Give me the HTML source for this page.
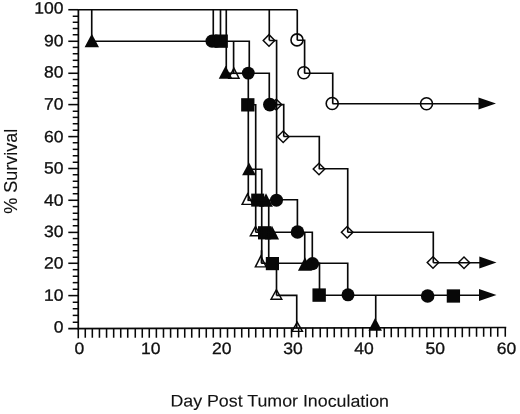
<!DOCTYPE html>
<html><head><meta charset="utf-8"><title>Survival chart</title>
<style>
html,body{margin:0;padding:0;background:#fff;}
svg{display:block}
text{font-family:"Liberation Sans",Arial,Helvetica,sans-serif;fill:#111;stroke:#111;}
</style></head>
<body>
<svg width="520" height="414" viewBox="0 0 520 414">
<rect width="520" height="414" fill="#fff"/>
<g>
<polygon points="269,33.60 275.80,40.4 269,47.20 262.20,40.4" fill="#080808"/><polygon points="269,35.65 273.75,40.4 269,45.15 264.25,40.4" fill="#fff"/>
<circle cx="297" cy="39.9" r="6.0" fill="#fff" stroke="#080808" stroke-width="1.6"/>
<polygon points="233.90,66.60 227.60,78.90 240.20,78.90" fill="#080808"/><polygon points="233.90,69.78 229.97,77.45 237.83,77.45" fill="#fff"/>
<circle cx="303.9" cy="72.8" r="6.0" fill="#fff" stroke="#080808" stroke-width="1.6"/>
<polygon points="276.3,98.20 282.70,104.6 276.3,111.00 269.90,104.6" fill="#080808"/><polygon points="276.3,100.25 280.65,104.6 276.3,108.95 271.95,104.6" fill="#fff"/>
<circle cx="332.2" cy="103.5" r="6.0" fill="#fff" stroke="#080808" stroke-width="1.6"/>
<circle cx="426.5" cy="103.8" r="6.0" fill="#fff" stroke="#080808" stroke-width="1.6"/>
<polygon points="283.2,129.90 290.00,136.7 283.2,143.50 276.40,136.7" fill="#080808"/><polygon points="283.2,131.95 287.95,136.7 283.2,141.45 278.45,136.7" fill="#fff"/>
<polygon points="319,162.20 325.80,169 319,175.80 312.20,169" fill="#080808"/><polygon points="319,164.25 323.75,169 319,173.75 314.25,169" fill="#fff"/>
<polygon points="247.50,192.20 240.95,205.10 254.05,205.10" fill="#080808"/><polygon points="247.50,195.40 243.31,203.65 251.69,203.65" fill="#fff"/>
<polygon points="255.50,224.90 249.10,236.40 261.90,236.40" fill="#080808"/><polygon points="255.50,227.88 251.57,234.95 259.43,234.95" fill="#fff"/>
<polygon points="347.2,225.40 354.00,232.2 347.2,239.00 340.40,232.2" fill="#080808"/><polygon points="347.2,227.45 351.95,232.2 347.2,236.95 342.45,232.2" fill="#fff"/>
<polygon points="260.80,254.60 254.20,267.60 267.40,267.60" fill="#080808"/><polygon points="260.80,257.80 256.56,266.15 265.04,266.15" fill="#fff"/>
<polygon points="433,255.70 439.80,262.5 433,269.30 426.20,262.5" fill="#080808"/><polygon points="433,257.75 437.75,262.5 433,267.25 428.25,262.5" fill="#fff"/>
<polygon points="464,256.00 470.80,262.8 464,269.60 457.20,262.8" fill="#080808"/><polygon points="464,258.05 468.75,262.8 464,267.55 459.25,262.8" fill="#fff"/>
<polygon points="276.40,288.20 269.80,299.90 283.00,299.90" fill="#080808"/><polygon points="276.40,291.15 272.28,298.45 280.52,298.45" fill="#fff"/>
<polygon points="297.20,320.70 290.70,332.10 303.70,332.10" fill="#080808"/><polygon points="297.20,323.63 293.20,330.65 301.20,330.65" fill="#fff"/>
</g>
<g>
<polygon points="91.80,33.80 84.60,47.25 99.00,47.25" fill="#080808"/>
<circle cx="212.1" cy="41.15" r="6.65" fill="#080808"/>
<circle cx="216" cy="41.15" r="6.65" fill="#080808"/>
<rect x="214.55" y="34.50" width="13.3" height="13.3" fill="#080808"/>
<polygon points="225.60,65.80 218.75,78.65 232.45,78.65" fill="#080808"/>
<circle cx="248.3" cy="73.1" r="6.4" fill="#080808"/>
<rect x="241.15" y="98.20" width="13.3" height="13.3" fill="#080808"/>
<circle cx="269.85" cy="104.6" r="6.8" fill="#080808"/>
<polygon points="478.5,97.5 496,103.5 478.5,109.5" fill="#080808"/>
<polygon points="249.00,162.60 242.10,175.15 255.90,175.15" fill="#080808"/>
<rect x="251.20" y="193.60" width="13.0" height="13.0" fill="#080808"/>
<polygon points="266.00,193.30 259.05,206.65 272.95,206.65" fill="#080808"/>
<circle cx="276.5" cy="200.2" r="6.5" fill="#080808"/>
<rect x="258.00" y="226.20" width="13.2" height="13.2" fill="#080808"/>
<polygon points="272.00,225.70 264.95,239.55 279.05,239.55" fill="#080808"/>
<circle cx="297.5" cy="232" r="6.8" fill="#080808"/>
<rect x="265.80" y="257.00" width="13.2" height="13.2" fill="#080808"/>
<polygon points="305.00,257.30 297.95,270.75 312.05,270.75" fill="#080808"/>
<circle cx="312.5" cy="263.7" r="6.6" fill="#080808"/>
<polygon points="479.3,256.6 496.5,262.6 479.3,268.6" fill="#080808"/>
<rect x="312.45" y="288.40" width="13.4" height="13.4" fill="#080808"/>
<circle cx="348" cy="294.8" r="6.5" fill="#080808"/>
<circle cx="427.65" cy="296" r="6.8" fill="#080808"/>
<rect x="446.75" y="289.35" width="13.3" height="13.3" fill="#080808"/>
<polygon points="479,289.0 496.5,295 479,301.0" fill="#080808"/>
<polygon points="375.20,317.80 368.45,330.85 381.95,330.85" fill="#080808"/>
</g>
<g>
<path d="M78.40 9.27 L78.27 329.40" fill="none" stroke="#080808" stroke-width="1.75" stroke-linejoin="miter" stroke-linecap="butt"/>
<path d="M68.27 328.60 L506.27 327.50" fill="none" stroke="#080808" stroke-width="1.6" stroke-linejoin="miter" stroke-linecap="butt"/>
<path d="M72.73 322.27 L78.27 322.27" fill="none" stroke="#080808" stroke-width="1.5" stroke-linejoin="miter" stroke-linecap="butt"/>
<path d="M72.73 315.40 L78.27 315.40" fill="none" stroke="#080808" stroke-width="1.5" stroke-linejoin="miter" stroke-linecap="butt"/>
<path d="M72.73 308.73 L78.27 308.73" fill="none" stroke="#080808" stroke-width="1.5" stroke-linejoin="miter" stroke-linecap="butt"/>
<path d="M72.73 302.27 L78.27 302.27" fill="none" stroke="#080808" stroke-width="1.5" stroke-linejoin="miter" stroke-linecap="butt"/>
<path d="M68.30 295.60 L78.27 295.60" fill="none" stroke="#080808" stroke-width="1.55" stroke-linejoin="miter" stroke-linecap="butt"/>
<path d="M72.73 289.27 L78.27 289.27" fill="none" stroke="#080808" stroke-width="1.5" stroke-linejoin="miter" stroke-linecap="butt"/>
<path d="M72.73 282.64 L78.27 282.64" fill="none" stroke="#080808" stroke-width="1.5" stroke-linejoin="miter" stroke-linecap="butt"/>
<path d="M72.73 276.27 L78.27 276.27" fill="none" stroke="#080808" stroke-width="1.5" stroke-linejoin="miter" stroke-linecap="butt"/>
<path d="M72.73 269.68 L78.27 269.68" fill="none" stroke="#080808" stroke-width="1.5" stroke-linejoin="miter" stroke-linecap="butt"/>
<path d="M68.30 263.27 L78.27 263.27" fill="none" stroke="#080808" stroke-width="1.55" stroke-linejoin="miter" stroke-linecap="butt"/>
<path d="M72.73 257.27 L78.27 257.27" fill="none" stroke="#080808" stroke-width="1.5" stroke-linejoin="miter" stroke-linecap="butt"/>
<path d="M72.73 250.73 L78.27 250.73" fill="none" stroke="#080808" stroke-width="1.5" stroke-linejoin="miter" stroke-linecap="butt"/>
<path d="M72.73 244.72 L78.27 244.72" fill="none" stroke="#080808" stroke-width="1.5" stroke-linejoin="miter" stroke-linecap="butt"/>
<path d="M72.73 238.56 L78.27 238.56" fill="none" stroke="#080808" stroke-width="1.5" stroke-linejoin="miter" stroke-linecap="butt"/>
<path d="M68.30 232.40 L78.27 232.40" fill="none" stroke="#080808" stroke-width="1.55" stroke-linejoin="miter" stroke-linecap="butt"/>
<path d="M72.73 225.73 L78.27 225.73" fill="none" stroke="#080808" stroke-width="1.5" stroke-linejoin="miter" stroke-linecap="butt"/>
<path d="M72.73 219.48 L78.27 219.48" fill="none" stroke="#080808" stroke-width="1.5" stroke-linejoin="miter" stroke-linecap="butt"/>
<path d="M72.73 213.27 L78.27 213.27" fill="none" stroke="#080808" stroke-width="1.5" stroke-linejoin="miter" stroke-linecap="butt"/>
<path d="M72.73 206.56 L78.27 206.56" fill="none" stroke="#080808" stroke-width="1.5" stroke-linejoin="miter" stroke-linecap="butt"/>
<path d="M68.30 200.27 L78.27 200.27" fill="none" stroke="#080808" stroke-width="1.55" stroke-linejoin="miter" stroke-linecap="butt"/>
<path d="M72.73 193.73 L78.27 193.73" fill="none" stroke="#080808" stroke-width="1.5" stroke-linejoin="miter" stroke-linecap="butt"/>
<path d="M72.73 187.46 L78.27 187.46" fill="none" stroke="#080808" stroke-width="1.5" stroke-linejoin="miter" stroke-linecap="butt"/>
<path d="M72.73 181.27 L78.27 181.27" fill="none" stroke="#080808" stroke-width="1.5" stroke-linejoin="miter" stroke-linecap="butt"/>
<path d="M72.73 174.73 L78.27 174.73" fill="none" stroke="#080808" stroke-width="1.5" stroke-linejoin="miter" stroke-linecap="butt"/>
<path d="M68.30 168.50 L78.27 168.50" fill="none" stroke="#080808" stroke-width="1.55" stroke-linejoin="miter" stroke-linecap="butt"/>
<path d="M72.73 162.27 L78.27 162.27" fill="none" stroke="#080808" stroke-width="1.5" stroke-linejoin="miter" stroke-linecap="butt"/>
<path d="M72.73 155.73 L78.27 155.73" fill="none" stroke="#080808" stroke-width="1.5" stroke-linejoin="miter" stroke-linecap="butt"/>
<path d="M72.73 149.36 L78.27 149.36" fill="none" stroke="#080808" stroke-width="1.5" stroke-linejoin="miter" stroke-linecap="butt"/>
<path d="M72.73 142.73 L78.27 142.73" fill="none" stroke="#080808" stroke-width="1.5" stroke-linejoin="miter" stroke-linecap="butt"/>
<path d="M68.30 136.60 L78.28 136.60" fill="none" stroke="#080808" stroke-width="1.55" stroke-linejoin="miter" stroke-linecap="butt"/>
<path d="M72.73 130.27 L78.29 130.27" fill="none" stroke="#080808" stroke-width="1.5" stroke-linejoin="miter" stroke-linecap="butt"/>
<path d="M72.73 123.73 L78.29 123.73" fill="none" stroke="#080808" stroke-width="1.5" stroke-linejoin="miter" stroke-linecap="butt"/>
<path d="M72.73 117.40 L78.30 117.40" fill="none" stroke="#080808" stroke-width="1.5" stroke-linejoin="miter" stroke-linecap="butt"/>
<path d="M72.73 111.27 L78.30 111.27" fill="none" stroke="#080808" stroke-width="1.5" stroke-linejoin="miter" stroke-linecap="butt"/>
<path d="M68.30 104.60 L78.31 104.60" fill="none" stroke="#080808" stroke-width="1.55" stroke-linejoin="miter" stroke-linecap="butt"/>
<path d="M72.73 98.32 L78.32 98.32" fill="none" stroke="#080808" stroke-width="1.5" stroke-linejoin="miter" stroke-linecap="butt"/>
<path d="M72.73 92.27 L78.32 92.27" fill="none" stroke="#080808" stroke-width="1.5" stroke-linejoin="miter" stroke-linecap="butt"/>
<path d="M72.73 85.73 L78.33 85.73" fill="none" stroke="#080808" stroke-width="1.5" stroke-linejoin="miter" stroke-linecap="butt"/>
<path d="M72.73 79.48 L78.33 79.48" fill="none" stroke="#080808" stroke-width="1.5" stroke-linejoin="miter" stroke-linecap="butt"/>
<path d="M68.30 73.27 L78.34 73.27" fill="none" stroke="#080808" stroke-width="1.55" stroke-linejoin="miter" stroke-linecap="butt"/>
<path d="M72.73 66.73 L78.35 66.73" fill="none" stroke="#080808" stroke-width="1.5" stroke-linejoin="miter" stroke-linecap="butt"/>
<path d="M72.73 60.32 L78.35 60.32" fill="none" stroke="#080808" stroke-width="1.5" stroke-linejoin="miter" stroke-linecap="butt"/>
<path d="M72.73 53.73 L78.36 53.73" fill="none" stroke="#080808" stroke-width="1.5" stroke-linejoin="miter" stroke-linecap="butt"/>
<path d="M72.73 47.44 L78.36 47.44" fill="none" stroke="#080808" stroke-width="1.5" stroke-linejoin="miter" stroke-linecap="butt"/>
<path d="M68.30 41.27 L78.37 41.27" fill="none" stroke="#080808" stroke-width="1.55" stroke-linejoin="miter" stroke-linecap="butt"/>
<path d="M72.73 34.73 L78.38 34.73" fill="none" stroke="#080808" stroke-width="1.5" stroke-linejoin="miter" stroke-linecap="butt"/>
<path d="M72.73 28.52 L78.38 28.52" fill="none" stroke="#080808" stroke-width="1.5" stroke-linejoin="miter" stroke-linecap="butt"/>
<path d="M72.73 22.28 L78.39 22.28" fill="none" stroke="#080808" stroke-width="1.5" stroke-linejoin="miter" stroke-linecap="butt"/>
<path d="M72.73 16.27 L78.39 16.27" fill="none" stroke="#080808" stroke-width="1.5" stroke-linejoin="miter" stroke-linecap="butt"/>
<path d="M68.30 9.73 L78.40 9.73" fill="none" stroke="#080808" stroke-width="1.55" stroke-linejoin="miter" stroke-linecap="butt"/>
<path d="M78.27 328.60 L78.27 338.27" fill="none" stroke="#080808" stroke-width="1.55" stroke-linejoin="miter" stroke-linecap="butt"/>
<path d="M85.27 328.58 L85.27 337.73" fill="none" stroke="#080808" stroke-width="1.55" stroke-linejoin="miter" stroke-linecap="butt"/>
<path d="M92.33 328.56 L92.33 337.73" fill="none" stroke="#080808" stroke-width="1.55" stroke-linejoin="miter" stroke-linecap="butt"/>
<path d="M99.44 328.55 L99.44 337.73" fill="none" stroke="#080808" stroke-width="1.55" stroke-linejoin="miter" stroke-linecap="butt"/>
<path d="M106.56 328.53 L106.56 337.73" fill="none" stroke="#080808" stroke-width="1.55" stroke-linejoin="miter" stroke-linecap="butt"/>
<path d="M113.67 328.51 L113.67 337.73" fill="none" stroke="#080808" stroke-width="1.55" stroke-linejoin="miter" stroke-linecap="butt"/>
<path d="M120.73 328.49 L120.73 337.73" fill="none" stroke="#080808" stroke-width="1.55" stroke-linejoin="miter" stroke-linecap="butt"/>
<path d="M127.73 328.47 L127.73 337.73" fill="none" stroke="#080808" stroke-width="1.55" stroke-linejoin="miter" stroke-linecap="butt"/>
<path d="M135.27 328.45 L135.27 337.73" fill="none" stroke="#080808" stroke-width="1.55" stroke-linejoin="miter" stroke-linecap="butt"/>
<path d="M142.27 328.44 L142.27 337.73" fill="none" stroke="#080808" stroke-width="1.55" stroke-linejoin="miter" stroke-linecap="butt"/>
<path d="M149.27 328.42 L149.27 337.73" fill="none" stroke="#080808" stroke-width="1.55" stroke-linejoin="miter" stroke-linecap="butt"/>
<path d="M156.37 328.40 L156.37 337.73" fill="none" stroke="#080808" stroke-width="1.55" stroke-linejoin="miter" stroke-linecap="butt"/>
<path d="M163.48 328.38 L163.48 337.73" fill="none" stroke="#080808" stroke-width="1.55" stroke-linejoin="miter" stroke-linecap="butt"/>
<path d="M170.59 328.36 L170.59 337.73" fill="none" stroke="#080808" stroke-width="1.55" stroke-linejoin="miter" stroke-linecap="butt"/>
<path d="M177.71 328.34 L177.71 337.73" fill="none" stroke="#080808" stroke-width="1.55" stroke-linejoin="miter" stroke-linecap="butt"/>
<path d="M184.73 328.33 L184.73 337.73" fill="none" stroke="#080808" stroke-width="1.55" stroke-linejoin="miter" stroke-linecap="butt"/>
<path d="M191.73 328.31 L191.73 337.71" fill="none" stroke="#080808" stroke-width="1.55" stroke-linejoin="miter" stroke-linecap="butt"/>
<path d="M199.27 328.29 L199.27 337.69" fill="none" stroke="#080808" stroke-width="1.55" stroke-linejoin="miter" stroke-linecap="butt"/>
<path d="M206.27 328.27 L206.27 337.67" fill="none" stroke="#080808" stroke-width="1.55" stroke-linejoin="miter" stroke-linecap="butt"/>
<path d="M213.28 328.27 L213.28 337.65" fill="none" stroke="#080808" stroke-width="1.55" stroke-linejoin="miter" stroke-linecap="butt"/>
<path d="M220.40 328.27 L220.40 337.63" fill="none" stroke="#080808" stroke-width="1.55" stroke-linejoin="miter" stroke-linecap="butt"/>
<path d="M227.51 328.27 L227.51 337.62" fill="none" stroke="#080808" stroke-width="1.55" stroke-linejoin="miter" stroke-linecap="butt"/>
<path d="M234.63 328.27 L234.63 337.60" fill="none" stroke="#080808" stroke-width="1.55" stroke-linejoin="miter" stroke-linecap="butt"/>
<path d="M241.73 328.27 L241.73 337.58" fill="none" stroke="#080808" stroke-width="1.55" stroke-linejoin="miter" stroke-linecap="butt"/>
<path d="M248.73 328.27 L248.73 337.56" fill="none" stroke="#080808" stroke-width="1.55" stroke-linejoin="miter" stroke-linecap="butt"/>
<path d="M255.73 328.27 L255.73 337.54" fill="none" stroke="#080808" stroke-width="1.55" stroke-linejoin="miter" stroke-linecap="butt"/>
<path d="M263.27 328.27 L263.27 337.52" fill="none" stroke="#080808" stroke-width="1.55" stroke-linejoin="miter" stroke-linecap="butt"/>
<path d="M270.27 328.27 L270.27 337.50" fill="none" stroke="#080808" stroke-width="1.55" stroke-linejoin="miter" stroke-linecap="butt"/>
<path d="M277.32 328.27 L277.32 337.49" fill="none" stroke="#080808" stroke-width="1.55" stroke-linejoin="miter" stroke-linecap="butt"/>
<path d="M284.43 328.27 L284.43 337.47" fill="none" stroke="#080808" stroke-width="1.55" stroke-linejoin="miter" stroke-linecap="butt"/>
<path d="M291.55 328.27 L291.55 337.45" fill="none" stroke="#080808" stroke-width="1.55" stroke-linejoin="miter" stroke-linecap="butt"/>
<path d="M298.66 328.27 L298.66 337.43" fill="none" stroke="#080808" stroke-width="1.55" stroke-linejoin="miter" stroke-linecap="butt"/>
<path d="M305.73 328.27 L305.73 337.41" fill="none" stroke="#080808" stroke-width="1.55" stroke-linejoin="miter" stroke-linecap="butt"/>
<path d="M312.73 327.73 L312.73 337.39" fill="none" stroke="#080808" stroke-width="1.55" stroke-linejoin="miter" stroke-linecap="butt"/>
<path d="M320.27 327.73 L320.27 337.38" fill="none" stroke="#080808" stroke-width="1.55" stroke-linejoin="miter" stroke-linecap="butt"/>
<path d="M327.27 327.73 L327.27 337.36" fill="none" stroke="#080808" stroke-width="1.55" stroke-linejoin="miter" stroke-linecap="butt"/>
<path d="M334.27 327.73 L334.27 337.34" fill="none" stroke="#080808" stroke-width="1.55" stroke-linejoin="miter" stroke-linecap="butt"/>
<path d="M341.36 327.73 L341.36 337.32" fill="none" stroke="#080808" stroke-width="1.55" stroke-linejoin="miter" stroke-linecap="butt"/>
<path d="M348.47 327.73 L348.47 337.30" fill="none" stroke="#080808" stroke-width="1.55" stroke-linejoin="miter" stroke-linecap="butt"/>
<path d="M355.58 327.73 L355.58 337.28" fill="none" stroke="#080808" stroke-width="1.55" stroke-linejoin="miter" stroke-linecap="butt"/>
<path d="M362.70 327.73 L362.70 337.27" fill="none" stroke="#080808" stroke-width="1.55" stroke-linejoin="miter" stroke-linecap="butt"/>
<path d="M369.73 327.73 L369.73 337.27" fill="none" stroke="#080808" stroke-width="1.55" stroke-linejoin="miter" stroke-linecap="butt"/>
<path d="M376.73 327.73 L376.73 337.27" fill="none" stroke="#080808" stroke-width="1.55" stroke-linejoin="miter" stroke-linecap="butt"/>
<path d="M384.27 327.73 L384.27 337.27" fill="none" stroke="#080808" stroke-width="1.55" stroke-linejoin="miter" stroke-linecap="butt"/>
<path d="M391.27 327.73 L391.27 337.27" fill="none" stroke="#080808" stroke-width="1.55" stroke-linejoin="miter" stroke-linecap="butt"/>
<path d="M398.27 327.73 L398.27 337.27" fill="none" stroke="#080808" stroke-width="1.55" stroke-linejoin="miter" stroke-linecap="butt"/>
<path d="M405.39 327.73 L405.39 337.27" fill="none" stroke="#080808" stroke-width="1.55" stroke-linejoin="miter" stroke-linecap="butt"/>
<path d="M412.50 327.73 L412.50 337.27" fill="none" stroke="#080808" stroke-width="1.55" stroke-linejoin="miter" stroke-linecap="butt"/>
<path d="M419.62 327.72 L419.62 337.27" fill="none" stroke="#080808" stroke-width="1.55" stroke-linejoin="miter" stroke-linecap="butt"/>
<path d="M426.73 327.70 L426.73 337.27" fill="none" stroke="#080808" stroke-width="1.55" stroke-linejoin="miter" stroke-linecap="butt"/>
<path d="M433.73 327.68 L433.73 337.27" fill="none" stroke="#080808" stroke-width="1.55" stroke-linejoin="miter" stroke-linecap="butt"/>
<path d="M440.73 327.67 L440.73 337.27" fill="none" stroke="#080808" stroke-width="1.55" stroke-linejoin="miter" stroke-linecap="butt"/>
<path d="M448.27 327.65 L448.27 337.27" fill="none" stroke="#080808" stroke-width="1.55" stroke-linejoin="miter" stroke-linecap="butt"/>
<path d="M455.27 327.63 L455.27 337.27" fill="none" stroke="#080808" stroke-width="1.55" stroke-linejoin="miter" stroke-linecap="butt"/>
<path d="M462.31 327.61 L462.31 337.27" fill="none" stroke="#080808" stroke-width="1.55" stroke-linejoin="miter" stroke-linecap="butt"/>
<path d="M469.42 327.59 L469.42 336.73" fill="none" stroke="#080808" stroke-width="1.55" stroke-linejoin="miter" stroke-linecap="butt"/>
<path d="M476.54 327.57 L476.54 336.73" fill="none" stroke="#080808" stroke-width="1.55" stroke-linejoin="miter" stroke-linecap="butt"/>
<path d="M483.65 327.56 L483.65 336.73" fill="none" stroke="#080808" stroke-width="1.55" stroke-linejoin="miter" stroke-linecap="butt"/>
<path d="M490.73 327.54 L490.73 336.73" fill="none" stroke="#080808" stroke-width="1.55" stroke-linejoin="miter" stroke-linecap="butt"/>
<path d="M497.73 327.52 L497.73 336.73" fill="none" stroke="#080808" stroke-width="1.55" stroke-linejoin="miter" stroke-linecap="butt"/>
<path d="M505.27 327.50 L505.27 336.73" fill="none" stroke="#080808" stroke-width="1.55" stroke-linejoin="miter" stroke-linecap="butt"/>
<path d="M78.27 9.73 L297.27 9.73" fill="none" stroke="#080808" stroke-width="1.65" stroke-linejoin="miter" stroke-linecap="butt"/>
<path d="M91.73 9.73 L91.73 41.27" fill="none" stroke="#080808" stroke-width="1.65" stroke-linejoin="miter" stroke-linecap="butt"/>
<path d="M91.73 41.27 L213.27 41.27" fill="none" stroke="#080808" stroke-width="1.65" stroke-linejoin="miter" stroke-linecap="butt"/>
<path d="M213.27 9.73 L213.27 41.27" fill="none" stroke="#080808" stroke-width="1.65" stroke-linejoin="miter" stroke-linecap="butt"/>
<path d="M220.50 9.73 L220.50 41.27" fill="none" stroke="#080808" stroke-width="1.65" stroke-linejoin="miter" stroke-linecap="butt"/>
<path d="M226.27 9.73 L226.27 73.27" fill="none" stroke="#080808" stroke-width="1.65" stroke-linejoin="miter" stroke-linecap="butt"/>
<path d="M226.27 41.27 L249.27 41.27 L249.27 73.27" fill="none" stroke="#080808" stroke-width="1.65" stroke-linejoin="miter" stroke-linecap="butt"/>
<path d="M233.60 41.27 L233.60 73.27" fill="none" stroke="#080808" stroke-width="1.65" stroke-linejoin="miter" stroke-linecap="butt"/>
<path d="M226.27 73.27 L248.30 73.27" fill="none" stroke="#080808" stroke-width="1.65" stroke-linejoin="miter" stroke-linecap="butt"/>
<path d="M248.30 73.27 L248.30 200.27" fill="none" stroke="#080808" stroke-width="1.65" stroke-linejoin="miter" stroke-linecap="butt"/>
<path d="M248.30 73.27 L269.27 73.27 L269.27 104.60" fill="none" stroke="#080808" stroke-width="1.65" stroke-linejoin="miter" stroke-linecap="butt"/>
<path d="M269.27 9.73 L269.27 40.40" fill="none" stroke="#080808" stroke-width="1.65" stroke-linejoin="miter" stroke-linecap="butt"/>
<path d="M269.27 40.50 L276.60 40.50 L276.60 200.27" fill="none" stroke="#080808" stroke-width="1.65" stroke-linejoin="miter" stroke-linecap="butt"/>
<path d="M276.60 104.60 L283.73 104.60 L283.73 136.60" fill="none" stroke="#080808" stroke-width="1.65" stroke-linejoin="miter" stroke-linecap="butt"/>
<path d="M283.50 136.50 L319.30 136.50 L319.30 169.27" fill="none" stroke="#080808" stroke-width="1.65" stroke-linejoin="miter" stroke-linecap="butt"/>
<path d="M319.30 168.73 L347.73 168.73 L347.73 232.27" fill="none" stroke="#080808" stroke-width="1.65" stroke-linejoin="miter" stroke-linecap="butt"/>
<path d="M347.50 232.27 L433.30 232.27 L433.30 262.73" fill="none" stroke="#080808" stroke-width="1.65" stroke-linejoin="miter" stroke-linecap="butt"/>
<path d="M433.27 262.70 L480.27 262.70" fill="none" stroke="#080808" stroke-width="1.65" stroke-linejoin="miter" stroke-linecap="butt"/>
<path d="M297.27 9.73 L297.27 40.27" fill="none" stroke="#080808" stroke-width="1.65" stroke-linejoin="miter" stroke-linecap="butt"/>
<path d="M297.27 40.27 L304.60 40.27 L304.60 73.27" fill="none" stroke="#080808" stroke-width="1.65" stroke-linejoin="miter" stroke-linecap="butt"/>
<path d="M304.30 73.27 L332.73 73.27 L332.73 103.73" fill="none" stroke="#080808" stroke-width="1.65" stroke-linejoin="miter" stroke-linecap="butt"/>
<path d="M332.50 103.73 L480.27 103.73" fill="none" stroke="#080808" stroke-width="1.65" stroke-linejoin="miter" stroke-linecap="butt"/>
<path d="M247.73 104.70 L255.70 104.70 L255.70 232.27" fill="none" stroke="#080808" stroke-width="1.65" stroke-linejoin="miter" stroke-linecap="butt"/>
<path d="M248.50 169.27 L261.73 169.27 L261.73 263.27" fill="none" stroke="#080808" stroke-width="1.65" stroke-linejoin="miter" stroke-linecap="butt"/>
<path d="M247.50 200.27 L276.50 200.27" fill="none" stroke="#080808" stroke-width="1.65" stroke-linejoin="miter" stroke-linecap="butt"/>
<path d="M276.50 199.73 L297.40 199.73 L297.40 232.27" fill="none" stroke="#080808" stroke-width="1.65" stroke-linejoin="miter" stroke-linecap="butt"/>
<path d="M268.73 200.27 L268.73 263.27" fill="none" stroke="#080808" stroke-width="1.65" stroke-linejoin="miter" stroke-linecap="butt"/>
<path d="M255.50 232.27 L297.40 232.27" fill="none" stroke="#080808" stroke-width="1.65" stroke-linejoin="miter" stroke-linecap="butt"/>
<path d="M297.40 232.27 L312.30 232.27 L312.30 263.27" fill="none" stroke="#080808" stroke-width="1.65" stroke-linejoin="miter" stroke-linecap="butt"/>
<path d="M304.73 232.27 L304.73 263.27" fill="none" stroke="#080808" stroke-width="1.65" stroke-linejoin="miter" stroke-linecap="butt"/>
<path d="M261.27 263.27 L319.50 263.27" fill="none" stroke="#080808" stroke-width="1.65" stroke-linejoin="miter" stroke-linecap="butt"/>
<path d="M261.50 250.27 L261.50 263.27" fill="none" stroke="#080808" stroke-width="1.65" stroke-linejoin="miter" stroke-linecap="butt"/>
<path d="M305.27 263.27 L319.50 263.27 L319.50 295.27" fill="none" stroke="#080808" stroke-width="1.65" stroke-linejoin="miter" stroke-linecap="butt"/>
<path d="M312.27 263.27 L347.73 263.27 L347.73 295.27" fill="none" stroke="#080808" stroke-width="1.65" stroke-linejoin="miter" stroke-linecap="butt"/>
<path d="M276.50 263.27 L276.50 295.40" fill="none" stroke="#080808" stroke-width="1.65" stroke-linejoin="miter" stroke-linecap="butt"/>
<path d="M276.40 295.40 L296.73 295.40 L296.73 328.27" fill="none" stroke="#080808" stroke-width="1.65" stroke-linejoin="miter" stroke-linecap="butt"/>
<path d="M319.50 295.27 L480.27 295.27" fill="none" stroke="#080808" stroke-width="1.65" stroke-linejoin="miter" stroke-linecap="butt"/>
<path d="M375.73 295.27 L375.73 320.27" fill="none" stroke="#080808" stroke-width="1.65" stroke-linejoin="miter" stroke-linecap="butt"/>
</g>
<g>
<text transform="translate(63.60,332.60) rotate(0.03) scale(1.07,1)" text-anchor="end" font-size="16.4" stroke-width="0.3">0</text>
<text transform="translate(63.60,300.80) rotate(0.03) scale(1.07,1)" text-anchor="end" font-size="16.4" stroke-width="0.3">10</text>
<text transform="translate(63.60,268.60) rotate(0.03) scale(1.07,1)" text-anchor="end" font-size="16.4" stroke-width="0.3">20</text>
<text transform="translate(63.60,237.00) rotate(0.03) scale(1.07,1)" text-anchor="end" font-size="16.4" stroke-width="0.3">30</text>
<text transform="translate(63.60,205.70) rotate(0.03) scale(1.07,1)" text-anchor="end" font-size="16.4" stroke-width="0.3">40</text>
<text transform="translate(63.60,173.50) rotate(0.03) scale(1.07,1)" text-anchor="end" font-size="16.4" stroke-width="0.3">50</text>
<text transform="translate(63.60,142.30) rotate(0.03) scale(1.07,1)" text-anchor="end" font-size="16.4" stroke-width="0.3">60</text>
<text transform="translate(63.60,109.40) rotate(0.03) scale(1.07,1)" text-anchor="end" font-size="16.4" stroke-width="0.3">70</text>
<text transform="translate(63.60,77.50) rotate(0.03) scale(1.07,1)" text-anchor="end" font-size="16.4" stroke-width="0.3">80</text>
<text transform="translate(63.60,46.30) rotate(0.03) scale(1.07,1)" text-anchor="end" font-size="16.4" stroke-width="0.3">90</text>
<text transform="translate(63.60,13.40) rotate(0.03) scale(1.07,1)" text-anchor="end" font-size="16.4" stroke-width="0.3">100</text>
<text transform="translate(79.50,353.90) rotate(0.03) scale(1.07,1)" text-anchor="middle" font-size="16.4" stroke-width="0.3">0</text>
<text transform="translate(150.65,353.90) rotate(0.03) scale(1.07,1)" text-anchor="middle" font-size="16.4" stroke-width="0.3">10</text>
<text transform="translate(221.80,353.90) rotate(0.03) scale(1.07,1)" text-anchor="middle" font-size="16.4" stroke-width="0.3">20</text>
<text transform="translate(292.95,353.90) rotate(0.03) scale(1.07,1)" text-anchor="middle" font-size="16.4" stroke-width="0.3">30</text>
<text transform="translate(364.10,353.90) rotate(0.03) scale(1.07,1)" text-anchor="middle" font-size="16.4" stroke-width="0.3">40</text>
<text transform="translate(435.25,353.90) rotate(0.03) scale(1.07,1)" text-anchor="middle" font-size="16.4" stroke-width="0.3">50</text>
<text transform="translate(506.40,353.90) rotate(0.03) scale(1.07,1)" text-anchor="middle" font-size="16.4" stroke-width="0.3">60</text>
<text transform="translate(279.70,406.60) rotate(0.03) scale(1.06,1)" text-anchor="middle" font-size="16.8" stroke-width="0.12">Day Post Tumor Inoculation</text>
<text transform="translate(17.20,171.20) rotate(-90) scale(1.0,1)" text-anchor="middle" font-size="18.0" stroke-width="0.12">% Survival</text>
</g>
</svg>
</body></html>
